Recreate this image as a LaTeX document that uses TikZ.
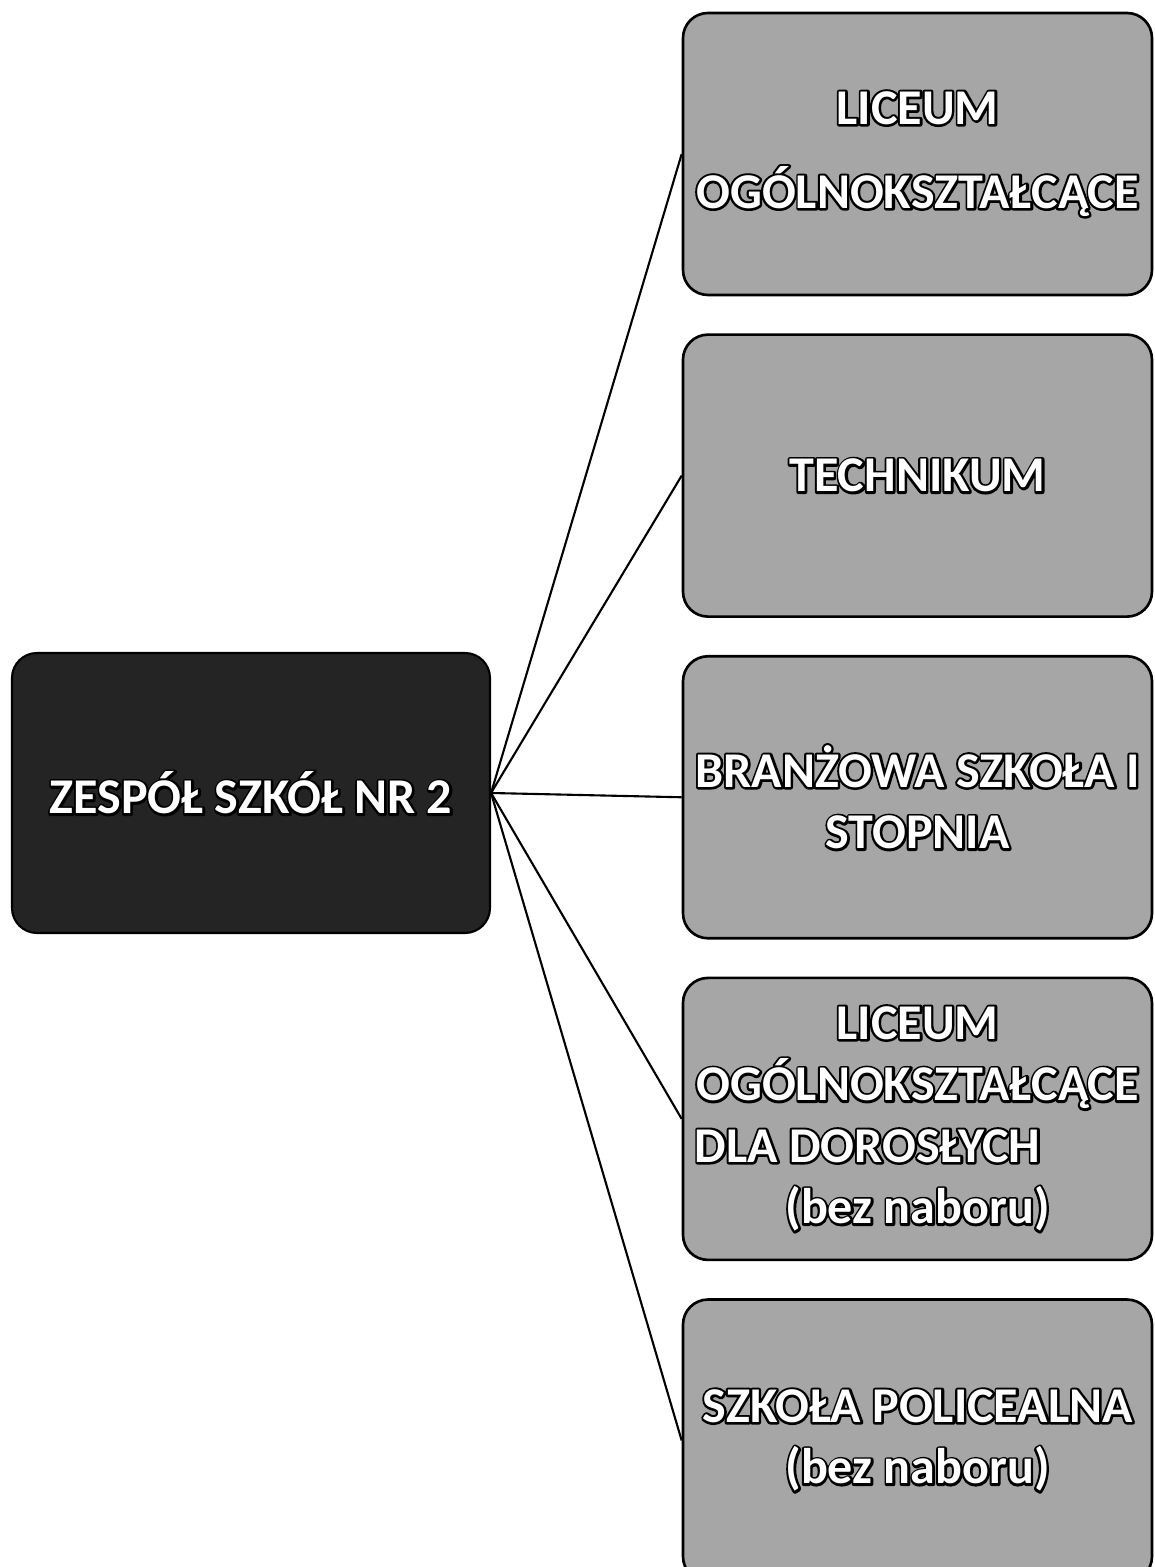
\documentclass[tikz,border=0pt]{standalone}
\definecolor{schoolDark}{HTML}{242424}
\definecolor{schoolGray}{HTML}{A6A6A6}
\usepackage{fontspec}
\setmainfont{Carlito}
\newcommand{\outlined}[1]{\rlap{\special{pdf:code q 1 Tr 2.6 w 1 j 0 0 0 RG}#1\special{pdf:code Q}}#1}
\usepackage{tikz}
\usetikzlibrary{positioning}

\begin{document}
\begin{tikzpicture}[
    mainbox/.style={draw=black, line width=1.2pt, rounded corners=0.5cm, fill=schoolDark,
        minimum width=9.56cm, minimum height=5.6cm, text=white, align=center,
        font=\fontsize{28.5}{35}\selectfont\bfseries},
    typebox/.style={draw=black, line width=1.5pt, rounded corners=0.5cm, fill=schoolGray,
        minimum width=9.38cm, minimum height=5.64cm, text=white, align=center, inner sep=0pt,
        font=\fontsize{28.5}{35}\selectfont\bfseries},
    link/.style={line width=1.2pt, black}
]
    \useasboundingbox (0,0) rectangle (23.08,31.34);

    \node[mainbox] (zs) at (5.02,15.48) {\outlined{ZESPÓŁ SZKÓŁ NR 2}};

    \node[typebox] (lo) at (18.35,28.26) {\outlined{LICEUM}\\[0.45cm]\outlined{OGÓLNOKSZTAŁCĄCE}};
    \node[typebox, below=0.74cm of lo] (tech) {\outlined{TECHNIKUM}};
    \node[typebox, below=0.74cm of tech] (bran) {\outlined{BRANŻOWA SZKOŁA I}\\\outlined{STOPNIA}};
    \node[typebox, below=0.74cm of bran] (lod) {\outlined{LICEUM}\\\outlined{OGÓLNOKSZTAŁCĄCE}\\\outlined{DLA DOROSŁYCH}\rule{2cm}{0pt}\\\outlined{(bez naboru)}};
    \node[typebox, below=0.74cm of lod] (pol) {\outlined{SZKOŁA POLICEALNA}\\\outlined{(bez naboru)}};

    \foreach \t in {lo,tech,bran,lod,pol}
        \draw[link] (zs.east) -- (\t.west);
\end{tikzpicture}
\end{document}
